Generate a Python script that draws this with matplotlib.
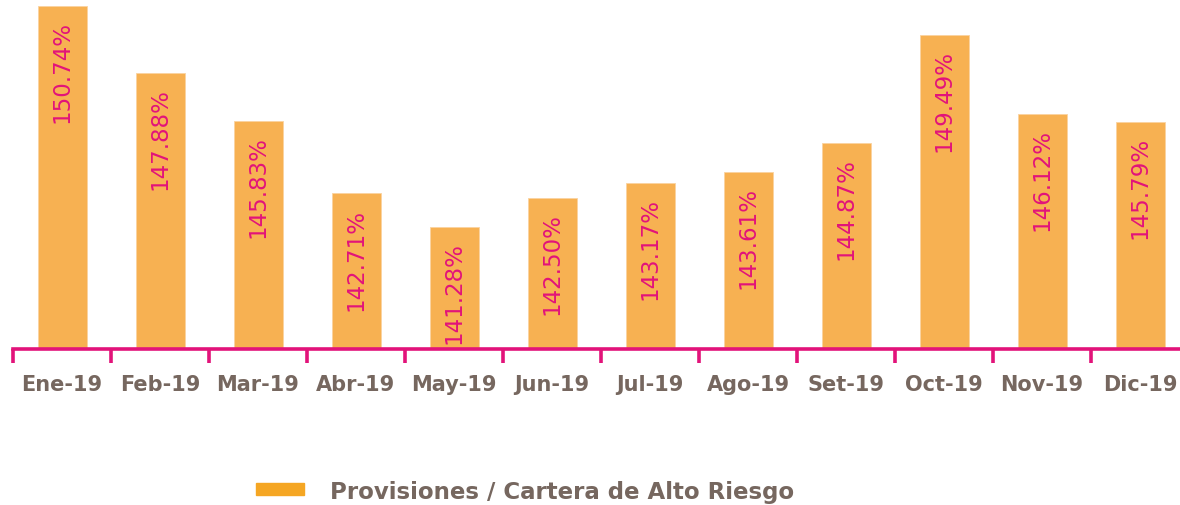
import numpy as np
import matplotlib.pyplot as plt
from matplotlib.patches import Patch

# 数据
meses = ['Ene-19', 'Feb-19', 'Mar-19', 'Abr-19', 'May-19', 'Jun-19',
         'Jul-19', 'Ago-19', 'Set-19', 'Oct-19', 'Nov-19', 'Dic-19']
ratio = [150.74, 147.88, 145.83, 142.71, 141.28, 142.50,
         143.17, 143.61, 144.87, 149.49, 146.12, 145.79]
serie = 'Provisiones / Cartera de Alto Riesgo'

bar_color = '#F7B152'
legend_color = '#F5A623'
magenta = '#E2137A'
gris = '#76675F'

plt.rcParams['font.family'] = ['DejaVu Sans']

fig = plt.figure(figsize=(11.8, 5.06), dpi=100)
ax = fig.add_axes([13 / 1180, 156 / 506, 1176 / 1180, 350 / 506])

x = np.arange(len(meses))
ax.bar(x, ratio, width=0.5, color=bar_color, edgecolor='#FAD3A0', linewidth=0.6, zorder=2)

# 柱内竖排数值
for xi, v in zip(x, ratio):
    ax.text(xi, v - 0.6, f'{v:.2f}%', rotation=90, ha='center', va='top',
            color=magenta, fontsize=16.5)

ax.set_xlim(-0.5, len(meses) - 0.5)
ax.set_ylim(136.05, 151.04)

for s in ['top', 'right', 'left']:
    ax.spines[s].set_visible(False)
ax.spines['bottom'].set_color(magenta)
ax.spines['bottom'].set_linewidth(2.6)
ax.yaxis.set_visible(False)

# 刻度在分类边界，标签在中间
ax.set_xticks(np.arange(-0.5, len(meses), 1.0))
ax.set_xticklabels([])
ax.tick_params(axis='x', which='major', direction='out', length=10, width=2.6, color=magenta)
ax.set_xticks(x, minor=True)
ax.set_xticklabels(meses, minor=True)
ax.tick_params(axis='x', which='minor', length=0, pad=18, labelsize=15, labelcolor=gris)
for lab in ax.get_xticklabels(minor=True):
    lab.set_fontweight('bold')

# 图例
leg = fig.legend(handles=[Patch(color=legend_color, label=serie)], loc='center',
                 bbox_to_anchor=(525 / 1180, 1 - 492 / 506), frameon=False,
                 handlelength=2.1, handleheight=0.45, handletextpad=1.1,
                 prop={'weight': 'bold', 'size': 16.5})
for t in leg.get_texts():
    t.set_color(gris)

fig.savefig('out.png', dpi=100)
